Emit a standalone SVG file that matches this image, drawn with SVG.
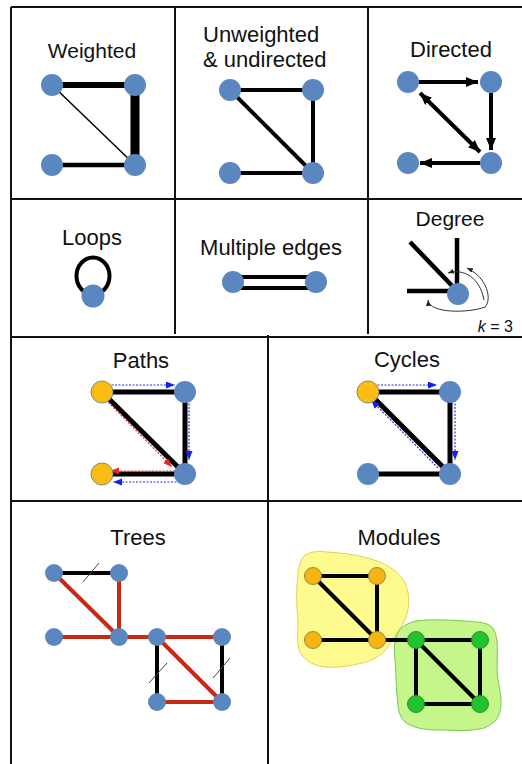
<svg xmlns="http://www.w3.org/2000/svg" width="522" height="764" viewBox="0 0 522 764">
<style>
.t{font-family:"Liberation Sans",Arial,sans-serif;font-size:22px;fill:#111;text-anchor:middle}
.grid{stroke:#111;stroke-width:2;fill:none}
.nb{fill:#5b87c0}
.ny{fill:#f8bd14;stroke:#8a8a70;stroke-width:1}
.no{fill:#f7b512;stroke:#9a8540;stroke-width:1}
.ng{fill:#22c22e;stroke:#2a8a33;stroke-width:1}
.e{stroke:#000;stroke-linecap:butt;fill:none}
.r{stroke:#c62a12;stroke-width:4;fill:none}
.bd{stroke:#2233dd;stroke-width:1.2;stroke-dasharray:2 1.5;fill:none}
.rd{stroke:#ee3333;stroke-width:1.2;stroke-dasharray:2 1.5;fill:none}
.thin{stroke:#333;stroke-width:1;fill:none}
.sl{stroke:#444;stroke-width:1;fill:none}
</style>
<defs>
<marker id="ab" markerUnits="userSpaceOnUse" markerWidth="13" markerHeight="11" refX="12" refY="5" orient="auto-start-reverse"><path d="M0,0 L12,5 L0,10 z" fill="#000"/></marker>
<marker id="abl" markerUnits="userSpaceOnUse" markerWidth="10" markerHeight="8" refX="9" refY="3.5" orient="auto-start-reverse"><path d="M0,0 L9,3.5 L0,7 z" fill="#1122ee"/></marker>
<marker id="ard" markerUnits="userSpaceOnUse" markerWidth="10" markerHeight="8" refX="9" refY="3.5" orient="auto-start-reverse"><path d="M0,0 L9,3.5 L0,7 z" fill="#ee2222"/></marker>
<marker id="ath" markerUnits="userSpaceOnUse" markerWidth="7" markerHeight="6" refX="6" refY="2.5" orient="auto-start-reverse"><path d="M0,0 L6,2.5 L0,5 z" fill="#222"/></marker>
</defs>
<rect width="522" height="764" fill="#fff"/>
<g id="grid" class="grid">
<line x1="11" y1="7" x2="522" y2="7"/>
<line x1="11" y1="7" x2="11" y2="764"/>
<line x1="11" y1="199" x2="522" y2="199"/>
<line x1="11" y1="337" x2="522" y2="337"/>
<line x1="11" y1="501" x2="522" y2="501"/>
<line x1="175" y1="7" x2="175" y2="334"/>
<line x1="368" y1="7" x2="368" y2="334"/>
<line x1="268" y1="335" x2="268" y2="764"/>
</g>

<g id="weighted">
<text class="t" x="92" y="58" style="font-size:21px">Weighted</text>
<g id="weighted-edges" class="e">
<line x1="52" y1="85" x2="135" y2="85" stroke-width="6"/>
<line x1="135" y1="85" x2="135" y2="165" stroke-width="9"/>
<line x1="52" y1="85" x2="135" y2="165" stroke-width="1.5"/>
<line x1="52" y1="165" x2="135" y2="165" stroke-width="4.5"/>
</g>
<g id="w1"><circle class="nb" cx="52" cy="85" r="11"/></g>
<g id="w2"><circle class="nb" cx="135" cy="85" r="11"/></g>
<g id="w3"><circle class="nb" cx="52" cy="165" r="11"/></g>
<g id="w4"><circle class="nb" cx="135" cy="165" r="11"/></g>
</g>

<g id="unweighted">
<text class="t" x="203" y="42" style="text-anchor:start">Unweighted</text>
<text class="t" x="203" y="67" style="text-anchor:start">&amp; undirected</text>
<g id="unweighted-edges" class="e" stroke-width="4">
<line x1="230" y1="90" x2="313" y2="90"/>
<line x1="313" y1="90" x2="313" y2="173"/>
<line x1="230" y1="90" x2="313" y2="173"/>
<line x1="230" y1="173" x2="313" y2="173"/>
</g>
<g id="u1"><circle class="nb" cx="230" cy="90" r="11"/></g>
<g id="u2"><circle class="nb" cx="313" cy="90" r="11"/></g>
<g id="u3"><circle class="nb" cx="230" cy="173" r="11"/></g>
<g id="u4"><circle class="nb" cx="313" cy="173" r="11"/></g>
</g>

<g id="directed">
<text class="t" x="451" y="57">Directed</text>
<g id="directed-edges" class="e" stroke-width="4">
<line x1="419" y1="82" x2="478" y2="82" marker-end="url(#ab)"/>
<line x1="491" y1="93" x2="491" y2="150" marker-end="url(#ab)"/>
<line x1="480" y1="163" x2="420" y2="163" marker-end="url(#ab)"/>
<line x1="420" y1="93" x2="480" y2="152" marker-start="url(#ab)" marker-end="url(#ab)"/>
</g>
<g id="d1"><circle class="nb" cx="408" cy="82" r="11"/></g>
<g id="d2"><circle class="nb" cx="491" cy="82" r="11"/></g>
<g id="d3"><circle class="nb" cx="408" cy="163" r="11"/></g>
<g id="d4"><circle class="nb" cx="491" cy="163" r="11"/></g>
</g>

<g id="loops">
<text class="t" x="92" y="245">Loops</text>
<g id="loops-edges"><ellipse cx="93" cy="276" rx="16.5" ry="18.5" stroke="#000" stroke-width="4" fill="none"/></g>
<g id="l1"><circle class="nb" cx="93" cy="296" r="11.5"/></g>
</g>

<g id="multiple">
<text class="t" x="271" y="255">Multiple edges</text>
<g id="multiple-edges" class="e" stroke-width="4">
<line x1="233" y1="277" x2="316" y2="277"/>
<line x1="233" y1="288" x2="316" y2="288"/>
</g>
<g id="m1"><circle class="nb" cx="233" cy="282" r="11"/></g>
<g id="m2"><circle class="nb" cx="316" cy="282" r="11"/></g>
</g>

<g id="degree">
<text class="t" x="450" y="226" style="font-size:21px">Degree</text>
<g id="degree-edges">
<g class="e" stroke-width="4.5">
<line x1="410" y1="242" x2="458" y2="292"/>
<line x1="457" y1="238" x2="457" y2="292"/>
<line x1="407" y1="291" x2="458" y2="291"/>
</g>
<path class="thin" d="M428,300 C429,314 470,313 485,307 C492,300 488,278 467,268" marker-start="url(#ath)" marker-end="url(#ath)"/>
<path class="thin" d="M448,273 C464,268 480,278 484,300" marker-start="url(#ath)"/>
</g>
<g id="dg1"><circle class="nb" cx="458" cy="294" r="11"/></g>
<text x="513" y="332" style="font-family:'Liberation Sans',Arial,sans-serif;font-size:16px;text-anchor:end;fill:#111"><tspan font-style="italic">k</tspan> = 3</text>
</g>

<g id="paths">
<text class="t" x="141" y="368">Paths</text>
<g id="paths-edges">
<g class="e" stroke-width="5">
<line x1="102" y1="392" x2="185" y2="392"/>
<line x1="185" y1="392" x2="185" y2="474"/>
<line x1="102" y1="392" x2="185" y2="474"/>
<line x1="102" y1="474" x2="185" y2="474"/>
</g>
<line class="bd" x1="108" y1="385" x2="175" y2="385" marker-end="url(#abl)"/>
<line class="bd" x1="189" y1="400" x2="189" y2="460" marker-end="url(#abl)"/>
<line class="bd" x1="180" y1="482" x2="113" y2="482" marker-end="url(#abl)"/>
<line class="rd" x1="106" y1="400" x2="172" y2="467" marker-end="url(#ard)"/>
<line class="rd" x1="175" y1="471" x2="110" y2="471" marker-end="url(#ard)"/>
</g>
<g id="p1"><circle class="ny" cx="102" cy="392" r="11"/></g>
<g id="p2"><circle class="nb" cx="185" cy="392" r="11"/></g>
<g id="p3"><circle class="ny" cx="102" cy="474" r="11"/></g>
<g id="p4"><circle class="nb" cx="185" cy="474" r="11"/></g>
</g>

<g id="cycles">
<text class="t" x="407" y="367">Cycles</text>
<g id="cycles-edges">
<g class="e" stroke-width="5">
<line x1="368" y1="392" x2="450" y2="392"/>
<line x1="450" y1="392" x2="450" y2="474"/>
<line x1="368" y1="392" x2="450" y2="474"/>
<line x1="368" y1="474" x2="450" y2="474"/>
</g>
<line class="bd" x1="374" y1="385" x2="437" y2="385" marker-end="url(#abl)"/>
<line class="bd" x1="455" y1="400" x2="455" y2="460" marker-end="url(#abl)"/>
<line class="bd" x1="438" y1="468" x2="371" y2="400" marker-end="url(#abl)"/>
</g>
<g id="c1"><circle class="ny" cx="368" cy="392" r="11"/></g>
<g id="c2"><circle class="nb" cx="450" cy="392" r="11"/></g>
<g id="c3"><circle class="nb" cx="368" cy="474" r="11"/></g>
<g id="c4"><circle class="nb" cx="450" cy="474" r="11"/></g>
</g>

<g id="trees">
<text class="t" x="138" y="545">Trees</text>
<g id="trees-edges">
<line class="e" stroke-width="4" x1="54" y1="573" x2="119" y2="573"/>
<line class="e" stroke-width="4" x1="157" y1="637" x2="157" y2="702"/>
<line class="e" stroke-width="4" x1="222" y1="637" x2="222" y2="702"/>
<line class="r" x1="54" y1="573" x2="119" y2="637"/>
<line class="r" x1="119" y1="573" x2="119" y2="637"/>
<line class="r" x1="54" y1="637" x2="157" y2="637"/>
<line class="r" x1="157" y1="637" x2="222" y2="637"/>
<line class="r" x1="157" y1="637" x2="222" y2="702"/>
<line class="r" x1="157" y1="702" x2="222" y2="702"/>
<line class="sl" x1="83" y1="582" x2="99" y2="563"/>
<line class="sl" x1="149" y1="683" x2="167" y2="663"/>
<line class="sl" x1="213" y1="678" x2="230" y2="658"/>
</g>
<g id="t1"><circle class="nb" cx="54" cy="573" r="9"/></g>
<g id="t2"><circle class="nb" cx="119" cy="573" r="9"/></g>
<g id="t3"><circle class="nb" cx="54" cy="637" r="9"/></g>
<g id="t4"><circle class="nb" cx="119" cy="637" r="9"/></g>
<g id="t5"><circle class="nb" cx="157" cy="637" r="9"/></g>
<g id="t6"><circle class="nb" cx="222" cy="637" r="9"/></g>
<g id="t7"><circle class="nb" cx="157" cy="702" r="9"/></g>
<g id="t8"><circle class="nb" cx="222" cy="702" r="9"/></g>
</g>

<g id="modules">
<text class="t" x="399" y="545">Modules</text>
<g id="module-yellow"><path d="M305,555 C312,551 320,551 327,552 C340,553 352,554 364,557 C380,561 396,568 404,581 C410,592 410,606 406,617 C402,628 396,634 390,644 C384,654 375,660 362,663 C350,666 338,668 326,667 C316,666 305,662 300,652 C296,642 298,632 298,622 C297,610 296,598 297,586 C298,574 298,562 305,555 Z" fill="#fdfa8e" stroke="#e6cf5a" stroke-width="1"/></g>
<g id="module-green"><path d="M398,632 C402,626 408,623 416,621 C430,619 448,620 465,621 C478,622 490,622 494,630 C499,640 497,655 497,668 C497,682 502,694 501,706 C500,718 494,724 484,728 C470,732 452,730 438,730 C425,730 413,728 405,722 C398,716 398,706 397,695 C396,684 396,672 395,660 C394,650 394,640 398,632 Z" fill="#c4f68c" stroke="#78c65a" stroke-width="1"/></g>
<g id="modules-edges" class="e" stroke-width="4">
<line x1="313" y1="576" x2="377" y2="576"/>
<line x1="377" y1="576" x2="377" y2="640"/>
<line x1="313" y1="576" x2="377" y2="640"/>
<line x1="313" y1="640" x2="416" y2="640"/>
<line x1="416" y1="640" x2="480" y2="640"/>
<line x1="416" y1="640" x2="416" y2="704"/>
<line x1="480" y1="640" x2="480" y2="704"/>
<line x1="416" y1="704" x2="480" y2="704"/>
<line x1="416" y1="640" x2="480" y2="704"/>
</g>
<g id="mo1"><circle class="no" cx="313" cy="576" r="8.5"/></g>
<g id="mo2"><circle class="no" cx="377" cy="576" r="8.5"/></g>
<g id="mo3"><circle class="no" cx="313" cy="640" r="8.5"/></g>
<g id="mo4"><circle class="no" cx="377" cy="640" r="8.5"/></g>
<g id="mg1"><circle class="ng" cx="416" cy="640" r="8.5"/></g>
<g id="mg2"><circle class="ng" cx="480" cy="640" r="8.5"/></g>
<g id="mg3"><circle class="ng" cx="416" cy="704" r="8.5"/></g>
<g id="mg4"><circle class="ng" cx="480" cy="704" r="8.5"/></g>
</g>
</svg>
